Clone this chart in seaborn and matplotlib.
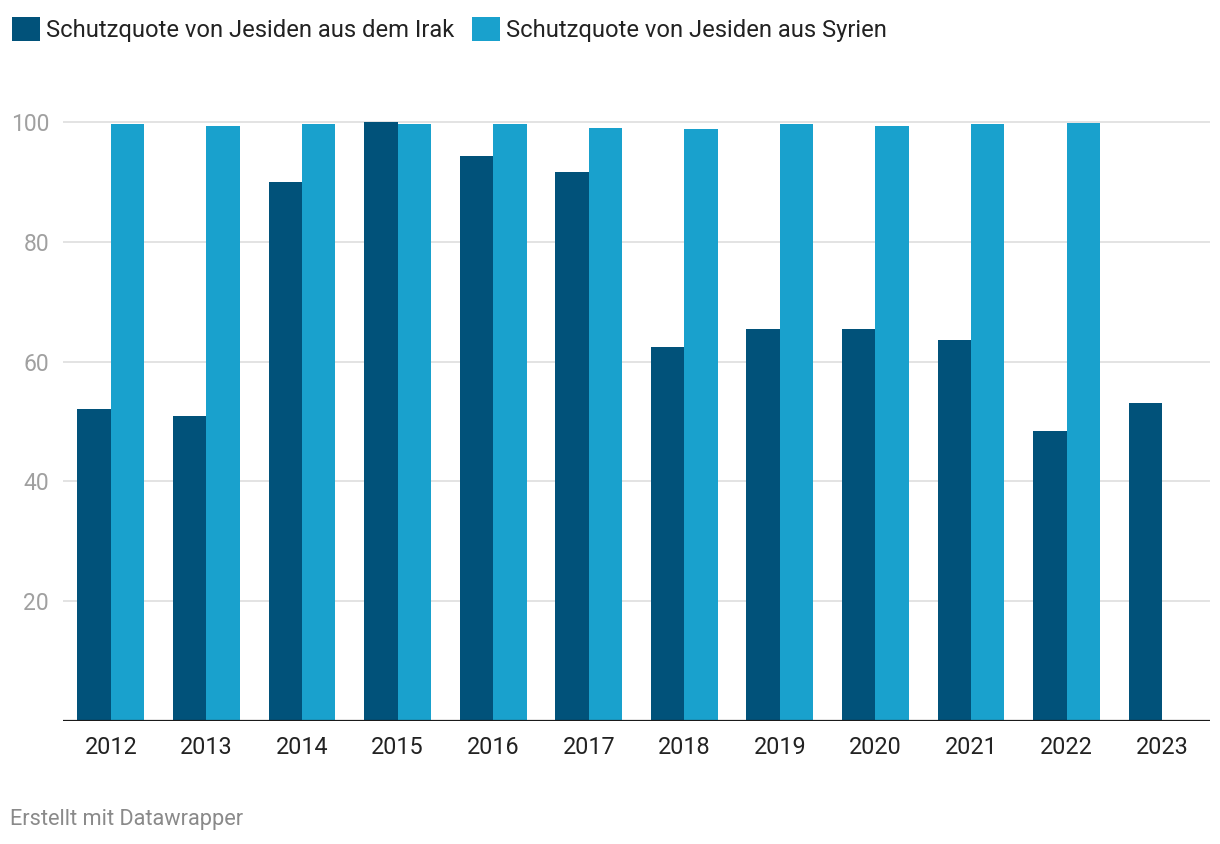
import matplotlib
matplotlib.use("Agg")
import matplotlib.pyplot as plt
import seaborn as sns
import pandas as pd
import numpy as np

years = ["2012", "2013", "2014", "2015", "2016", "2017", "2018", "2019", "2020", "2021", "2022", "2023"]
irak = [52.1, 50.9, 90.0, 100.0, 94.3, 91.7, 62.4, 65.4, 65.4, 63.6, 48.4, 53.1]
syrien = [99.7, 99.3, 99.7, 99.7, 99.7, 99.0, 98.8, 99.7, 99.3, 99.7, 99.8, np.nan]
series_names = ["Schutzquote von Jesiden aus dem Irak", "Schutzquote von Jesiden aus Syrien"]
colors = ["#01527a", "#19a1cd"]
yticks = [20, 40, 60, 80, 100]

df = pd.DataFrame({
    "Jahr": years * 2,
    "Wert": irak + syrien,
    "Serie": [series_names[0]] * len(years) + [series_names[1]] * len(years),
})

sns.set_theme(style="white")
plt.rcParams["font.family"] = ["Roboto", "DejaVu Sans"]

fig = plt.figure(figsize=(12.2, 8.44), dpi=100)
ax = fig.add_axes([63 / 1220, 1 - 721 / 844, (1210 - 63) / 1220, (721 - 116) / 844])

sns.barplot(data=df, x="Jahr", y="Wert", hue="Serie", order=years, hue_order=series_names,
            palette=colors, width=0.7, saturation=1, errorbar=None, ax=ax, legend=False,
            linewidth=0, edgecolor="none", zorder=3)

ax.set_xlim(-0.5, 11.5)
ax.set_ylim(0, 101)
ax.set_yticks(yticks)
ax.set_yticklabels([str(t) for t in yticks])
for t in yticks:
    ax.axhline(t, color="#e3e3e3", lw=1.4, zorder=1)
ax.axhline(0, color="#1a1a1a", lw=1.6, zorder=4)

for s in ax.spines.values():
    s.set_visible(False)
ax.set_xlabel("")
ax.set_ylabel("")
ax.tick_params(axis="x", length=0, pad=11, labelsize=16.8, labelcolor="#222222")
ax.tick_params(axis="y", length=0, pad=10, labelsize=16.5, labelcolor="#a0a0a0")
ax.grid(False)

from matplotlib.patches import Patch
handles = [Patch(facecolor=c, edgecolor="none") for c in colors]
fig.legend(handles, series_names, loc="upper left", bbox_to_anchor=(-0.002, 0.997),
           ncol=2, frameon=False, fontsize=17.1, handlelength=1.18, handleheight=1.18,
           handletextpad=0.25, columnspacing=0.75, borderaxespad=0.3, borderpad=0.3,
           labelcolor="#222222")

fig.text(10 / 1220, 1 - 819 / 844, "Erstellt mit Datawrapper", fontsize=15.7,
         color="#8a8a8a", va="center", ha="left")

fig.savefig("out.png", dpi=100)
